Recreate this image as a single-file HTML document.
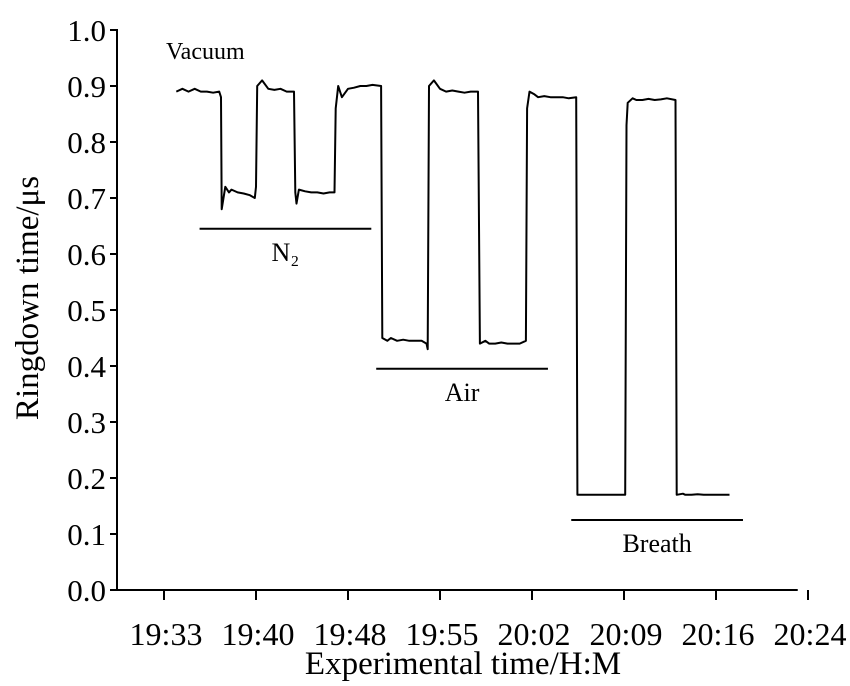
<!DOCTYPE html>
<html><head><meta charset="utf-8"><style>
html,body{margin:0;padding:0;background:#fff;}
svg{display:block;font-family:"Liberation Serif",serif;}
</style></head><body>
<svg id="chart" width="850" height="686" viewBox="0 0 850 686">
<g id="axes"></g>
<g id="series"></g>
<g id="annot"></g>
</svg>
<script>
// time in minutes after 19:33
const xTickLabels = ["19:33","19:40","19:48","19:55","20:02","20:09","20:16","20:24"];
const yTickLabels = ["0.0","0.1","0.2","0.3","0.4","0.5","0.6","0.7","0.8","0.9","1.0"];
const traceT = [1.0,1.5,2.0,2.5,3.0,3.5,4.0,4.5,4.65,4.7,5.0,5.3,5.5,6.0,6.5,7.0,7.4,7.5,7.6,8.0,8.5,9.0,9.5,10.0,10.6,10.7,10.8,11.0,11.5,12.0,12.5,13.0,13.5,13.9,14.0,14.2,14.5,15.0,15.5,16.0,16.5,17.0,17.7,17.8,18.2,18.5,19.0,19.5,20.0,20.5,21.0,21.4,21.5,21.6,22.0,22.5,23.0,23.5,24.0,24.5,25.0,25.6,25.75,26.2,26.5,27.0,27.5,28.0,28.5,29.0,29.5,29.6,29.8,30.2,30.5,31.0,31.5,32.0,32.5,33.0,33.6,33.7,34.0,34.5,35.0,35.5,36.0,36.5,37.0,37.6,37.7,37.8,38.2,38.5,39.0,39.5,40.0,40.5,41.0,41.7,41.8,42.3,42.5,43.0,43.5,44.0,44.5,45.0,45.5,46.1];
const traceV = [0.89,0.895,0.89,0.895,0.89,0.89,0.888,0.89,0.88,0.68,0.72,0.71,0.715,0.71,0.708,0.705,0.70,0.72,0.90,0.91,0.895,0.893,0.895,0.89,0.89,0.71,0.69,0.715,0.712,0.71,0.71,0.708,0.71,0.71,0.86,0.90,0.88,0.895,0.897,0.90,0.90,0.902,0.90,0.45,0.445,0.45,0.445,0.447,0.445,0.445,0.445,0.44,0.43,0.90,0.91,0.895,0.89,0.892,0.89,0.888,0.89,0.89,0.44,0.445,0.44,0.44,0.442,0.44,0.44,0.44,0.445,0.86,0.89,0.885,0.88,0.882,0.88,0.88,0.88,0.878,0.88,0.17,0.17,0.17,0.17,0.17,0.17,0.17,0.17,0.17,0.83,0.87,0.878,0.875,0.875,0.877,0.875,0.876,0.878,0.875,0.17,0.172,0.17,0.17,0.171,0.17,0.17,0.17,0.17,0.17];
const gasLabels = ["N\u2082","Air","Breath"];
const gasStart = [2.9,17.3,33.2];
const gasEnd = [16.9,31.3,47.2];
const gasLevel = [0.645,0.395,0.125];

const NS="http://www.w3.org/2000/svg";
const X0=164, PXM=92/7.5, Y0=590, PXV=560;
function xs(t){return X0+t*PXM;}
function ys(v){return Y0-v*PXV;}
function mk(tag,attrs,parent,text){const e=document.createElementNS(NS,tag);for(const k in attrs)e.setAttribute(k,attrs[k]);if(text!==undefined)e.textContent=text;parent.appendChild(e);return e;}
const axes=document.getElementById('axes'), series=document.getElementById('series'), annot=document.getElementById('annot');

let ax=mk('line',{x1:117,y1:Y0,x2:xs(51.5)+2,y2:Y0,stroke:'#000','stroke-width':2},axes);


let ay=mk('line',{x1:117,y1:Y0+1,x2:117,y2:ys(1.0)-1,stroke:'#000','stroke-width':2},axes);



xTickLabels.forEach((lab,i)=>{
  const x=xs(i*7.5);
  const t=mk('line',{x1:x,y1:Y0,x2:x,y2:Y0+10,stroke:'#000','stroke-width':2},axes);
  
  
  const tx=mk('text',{x:x+2,y:645,'text-anchor':'middle','font-size':'32'},axes,lab);
  
  
});
yTickLabels.forEach((lab,i)=>{
  const y=ys(i*0.1);
  const t=mk('line',{x1:110,y1:y,x2:117,y2:y,stroke:'#000','stroke-width':2},axes);
  
  
  const tx=mk('text',{x:106,y:y+11,'text-anchor':'end','font-size':'31'},axes,lab);
  
  
});
const xt=mk('text',{x:463,y:674,'text-anchor':'middle','font-size':'33'},axes,'Experimental time/H:M');


const yt=mk('text',{x:0,y:0,'text-anchor':'middle','font-size':'33',transform:'translate(38,298) rotate(-90)'},axes,'Ringdown time/\u03bcs');



const d=traceT.map((t,i)=>(i?'L':'M')+xs(t).toFixed(1)+','+ys(traceV[i]).toFixed(1)).join(' ');
const p=mk('path',{d:d,fill:'none',stroke:'#000','stroke-width':2,'stroke-linejoin':'round'},series);



const vac=mk('text',{x:166,y:59,'font-size':'24'},annot,'Vacuum');


gasLabels.forEach((lab,i)=>{
  const a=xs(gasStart[i]), b=xs(gasEnd[i]), y=ys(gasLevel[i]);
  const l=mk('line',{x1:a,y1:y,x2:b,y2:y,stroke:'#000','stroke-width':2},annot);
  
  
  const tx=mk('text',{x:(a+b)/2,y:y+32,'text-anchor':'middle','font-size':'26'},annot,lab);
  
  
});
</script>
</body></html>
